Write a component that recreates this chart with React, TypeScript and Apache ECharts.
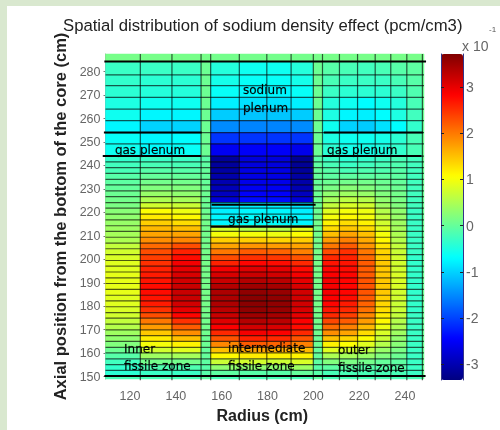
import React, { useEffect, useRef } from "react";
import * as echarts from "echarts";

const titleText = "Spatial distribution of sodium density effect (pcm/cm3)";
const xName = "Radius (cm)";
const yName = "Axial position from the bottom of the core (cm)";
const xTicks = [120, 140, 160, 180, 200, 220, 240];
const yTicks = [150, 160, 170, 180, 190, 200, 210, 220, 230, 240, 250, 260, 270, 280];
const barTicks = [-3, -2, -1, 0, 1, 2, 3];

const xEdges = [109.3, 124.5, 138.3, 151, 155.2, 167.7, 179.7, 190.3, 200, 204, 211.4, 219.3, 227, 233.8, 240.8, 247.6, 248.3];
const yEdges = [
  287.5, 284.3, 278.6, 274, 269, 264, 259.1, 254, 249.2, 244,
  241.5, 239.1, 236.6, 234.1, 231.7, 229.2, 226.7, 224.2, 221.8, 219.3,
  216.8, 214.3, 211.9, 209.4, 206.9, 204.5, 202, 199.5, 197.1, 194.6,
  192.1, 189.7, 187.2, 184.7, 182.3, 179.8, 177.3, 174.9, 172.4, 169.9,
  167.5, 165, 162.5, 160.1, 157.6, 155.1, 152.7, 150.2, 149,
];

// upper rows, top to bottom; each row lists the 16 columns
const upperRows = [
  [0.12, 0.12, 0.12, 0.12, 0.1, 0.1, 0.1, 0.1, 0.12, 0.12, 0.12, 0.12, 0.12, 0.12, 0.12, 0.12],
  [-0.3, -0.3, -0.3, 0.05, -0.45, -0.6, -0.6, -0.45, 0.05, -0.1, -0.2, -0.25, -0.2, -0.1, -0.05, 0.05],
  [-0.35, -0.4, -0.4, 0.05, -0.55, -0.65, -0.65, -0.55, 0.05, -0.2, -0.3, -0.3, -0.3, -0.2, -0.1, 0.05],
  [-0.4, -0.45, -0.45, 0.05, -0.65, -0.75, -0.75, -0.65, 0.05, -0.3, -0.4, -0.4, -0.4, -0.3, -0.15, 0.05],
  [-0.5, -0.6, -0.6, 0.05, -0.8, -0.9, -0.9, -0.8, 0.05, -0.45, -0.6, -0.7, -0.6, -0.45, -0.2, 0.05],
  [-0.6, -0.75, -0.75, 0.05, -1.05, -1.1, -1.1, -1.05, 0.05, -0.5, -0.75, -0.8, -0.7, -0.5, -0.25, 0.05],
  [-0.75, -1.0, -1.0, 0.05, -1.5, -1.55, -1.55, -1.5, 0.05, -0.6, -1.0, -1.05, -0.9, -0.7, -0.35, 0.05],
  [-0.65, -0.75, -0.7, 0.05, -2.1, -2.1, -2.1, -2.1, 0.05, -0.5, -0.6, -0.6, -0.55, -0.4, -0.2, 0.05],
  [-0.6, -0.7, -0.65, 0.05, -2.55, -2.5, -2.5, -2.6, 0.05, -0.4, -0.55, -0.55, -0.5, -0.35, -0.2, 0.05],
];

// lower rows, one array per column, top to bottom (38 rows from 244 cm to 150 cm)
const col0 = [-0.35, -0.25, -0.2, -0.1, -0.05, 0, 0.05, 0.1, 0.15, 0.25, 0.3, 0.35, 0.4, 0.45, 0.5, 0.65, 0.75, 0.8, 0.85, 0.85, 0.9, 0.9, 0.9, 0.9, 0.85, 0.85, 0.8, 0.75, 0.65, 0.55, 0.4, 0.3, 0.2, 0.05, -0.1, -0.25, -0.35, -0.4];
const col1 = [-0.3, -0.2, -0.1, 0, 0.1, 0.2, 0.35, 0.5, 0.75, 1.05, 1.2, 1.4, 1.55, 1.7, 1.85, 2.1, 2.3, 2.4, 2.5, 2.6, 2.65, 2.7, 2.75, 2.75, 2.7, 2.65, 2.5, 2.3, 2.0, 1.75, 1.45, 1.2, 1.0, 0.75, 0.4, 0.1, -0.15, -0.3];
const col2 = [-0.3, -0.2, -0.1, 0, 0.1, 0.2, 0.3, 0.45, 0.7, 0.95, 1.1, 1.3, 1.5, 1.7, 1.9, 2.3, 2.6, 2.75, 2.9, 3.0, 3.1, 3.15, 3.2, 3.2, 3.2, 3.15, 3.0, 2.8, 2.5, 2.2, 1.85, 1.5, 1.15, 0.85, 0.45, 0.1, -0.15, -0.3];
const col3 = [-0.1, -0.05, 0, 0, 0, 0.05, 0.05, 0.05, 0.05, 0.05, 0.1, 0.1, 0.1, 0.1, 0.1, 0.1, 0.12, 0.12, 0.12, 0.12, 0.12, 0.12, 0.12, 0.12, 0.12, 0.12, 0.12, 0.1, 0.1, 0.1, 0.08, 0.05, 0.05, 0, 0, -0.05, -0.1, -0.1];
const col4 = [-3.15, -3.15, -3.1, -3.05, -3.0, -2.95, -2.9, -2.75, -0.85, -0.8, -0.75, -0.75, 0.75, 1.0, 1.4, 1.7, 2.0, 2.3, 2.6, 2.9, 3.1, 3.2, 3.35, 3.4, 3.4, 3.4, 3.3, 3.2, 3.05, 2.85, 2.55, 2.25, 1.9, 1.5, 1.1, 0.7, 0.3, -0.05];
const col5 = [-2.7, -2.7, -2.65, -2.65, -2.6, -2.55, -2.5, -2.4, -0.8, -0.75, -0.7, -0.7, 0.55, 1.0, 1.4, 1.8, 2.2, 2.5, 2.8, 3.05, 3.2, 3.35, 3.5, 3.6, 3.65, 3.65, 3.6, 3.5, 3.35, 3.15, 2.9, 2.6, 2.2, 1.7, 1.2, 0.75, 0.3, -0.1];
const col6 = [-2.7, -2.7, -2.65, -2.65, -2.6, -2.55, -2.5, -2.4, -0.8, -0.75, -0.7, -0.7, 0.55, 0.95, 1.35, 1.75, 2.15, 2.45, 2.75, 3.0, 3.15, 3.3, 3.45, 3.55, 3.6, 3.6, 3.55, 3.45, 3.3, 3.1, 2.85, 2.55, 2.15, 1.65, 1.15, 0.7, 0.3, -0.1];
const col7 = [-3.2, -3.2, -3.15, -3.1, -3.05, -3.0, -2.9, -2.75, -0.85, -0.8, -0.75, -0.75, 0.85, 1.05, 1.4, 1.7, 1.95, 2.25, 2.55, 2.75, 2.9, 3.0, 3.1, 3.15, 3.15, 3.15, 3.1, 3.0, 2.85, 2.75, 2.55, 2.25, 1.95, 1.55, 1.15, 0.8, 0.4, 0];
const col8 = [-0.1, -0.05, 0, 0, 0, 0.05, 0.05, 0.05, 0.05, 0.05, 0.1, 0.1, 0.1, 0.1, 0.1, 0.1, 0.12, 0.12, 0.12, 0.12, 0.12, 0.12, 0.12, 0.12, 0.12, 0.12, 0.12, 0.1, 0.1, 0.1, 0.08, 0.05, 0.05, 0, 0, -0.05, -0.1, -0.1];
const col9 = [-0.3, -0.2, -0.1, -0.05, 0.05, 0.15, 0.3, 0.45, 0.65, 0.85, 1.0, 1.15, 1.3, 1.5, 1.75, 2.0, 2.3, 2.55, 2.7, 2.8, 2.85, 2.9, 2.9, 2.9, 2.85, 2.8, 2.7, 2.55, 2.35, 2.1, 1.85, 1.5, 1.15, 0.85, 0.5, 0.2, -0.05, -0.2];
const col10 = [-0.4, -0.3, -0.2, -0.05, 0.1, 0.25, 0.4, 0.6, 0.8, 1.0, 1.1, 1.3, 1.45, 1.7, 1.95, 2.2, 2.5, 2.6, 2.7, 2.75, 2.8, 2.8, 2.8, 2.8, 2.75, 2.65, 2.55, 2.4, 2.2, 1.95, 1.7, 1.35, 1.05, 0.75, 0.45, 0.15, -0.05, -0.2];
const col11 = [-0.35, -0.25, -0.15, -0.05, 0.1, 0.2, 0.35, 0.55, 0.75, 0.95, 1.0, 1.15, 1.3, 1.5, 1.65, 1.8, 2.0, 2.1, 2.2, 2.2, 2.2, 2.25, 2.25, 2.25, 2.2, 2.15, 2.05, 1.9, 1.75, 1.55, 1.3, 1.05, 0.85, 0.6, 0.35, 0.1, -0.1, -0.2];
const col12 = [-0.3, -0.2, -0.15, -0.05, 0.05, 0.1, 0.2, 0.3, 0.4, 0.55, 0.65, 0.75, 0.85, 1.0, 1.1, 1.25, 1.35, 1.4, 1.45, 1.45, 1.45, 1.45, 1.45, 1.45, 1.4, 1.35, 1.3, 1.2, 1.1, 0.95, 0.8, 0.7, 0.55, 0.35, 0.2, 0, -0.1, -0.2];
const col13 = [-0.2, -0.15, -0.1, -0.05, 0, 0.05, 0.1, 0.15, 0.2, 0.3, 0.35, 0.4, 0.45, 0.5, 0.55, 0.65, 0.7, 0.75, 0.75, 0.75, 0.8, 0.8, 0.8, 0.75, 0.75, 0.7, 0.7, 0.65, 0.55, 0.5, 0.4, 0.3, 0.25, 0.15, 0.05, -0.05, -0.1, -0.2];
const col14 = [-0.25, -0.25, -0.25, -0.25, -0.25, -0.25, -0.25, -0.25, -0.25, -0.3, -0.3, -0.3, -0.3, -0.3, -0.3, -0.3, -0.3, -0.35, -0.35, -0.35, -0.35, -0.35, -0.35, -0.35, -0.35, -0.35, -0.35, -0.3, -0.3, -0.3, -0.3, -0.3, -0.3, -0.3, -0.3, -0.3, -0.3, -0.3];
const col15 = [0.05, 0.05, 0.05, 0.05, 0.05, 0.05, 0.05, 0.05, 0.05, 0.05, 0.05, 0.05, 0.05, 0.05, 0.05, 0.05, 0.05, 0.05, 0.05, 0.05, 0.05, 0.05, 0.05, 0.05, 0.05, 0.05, 0.05, 0.05, 0.05, 0.05, 0.05, 0.05, 0.05, 0.05, 0.05, 0.05, 0.05, 0.05];
const lowerColumns = [col0, col1, col2, col3, col4, col5, col6, col7, col8, col9, col10, col11, col12, col13, col14, col15];
const bottomRow = [-0.2, -0.2, -0.2, -0.05, -0.2, -0.2, -0.2, -0.2, -0.05, -0.2, -0.2, -0.2, -0.2, -0.2, -0.2, 0];

// x1, y1, x2, y2 of each heavy line, in chart units
const heavyLines = [
  [108.8, 284.3, 249.2, 284.3],
  [108.6, 254, 151.3, 254],
  [108.1, 244, 151, 244],
  [204.6, 254, 247.8, 254],
  [204, 244, 247.2, 244],
  [155.6, 223.3, 201, 223.3],
  [155.2, 213.9, 200, 213.9],
  [108.8, 150.3, 249, 150.3],
];

const notes: [string, number, number][] = [
  ["sodium", 169.3, 272.2],
  ["plenum", 169.3, 264.5],
  ["gas plenum", 113.4, 246.6],
  ["gas plenum", 206, 246.6],
  ["gas plenum", 162.8, 217.2],
  ["Inner", 117.4, 161.8],
  ["fissile zone", 117.4, 154.6],
  ["intermediate", 162.8, 162.2],
  ["fissile zone", 162.8, 154.6],
  ["outer", 210.8, 161.4],
  ["fissile zone", 210.8, 153.7],
];

const jet = ["#000080", "#0000ff", "#0080ff", "#00ffff", "#80ff80", "#ffff00", "#ff8000", "#ff0000", "#800000"];

const rowsAll: number[][] = [
  ...upperRows,
  ...col0.map((_, r) => lowerColumns.map((c) => c[r])),
  bottomRow,
];

export default function App() {
  const ref = useRef<HTMLDivElement>(null);
  useEffect(() => {
    const chart = echarts.init(ref.current!, undefined, { renderer: "svg" });
    const cells: number[][] = [];
    rowsAll.forEach((row, r) =>
      row.forEach((v, c) => cells.push([xEdges[c], yEdges[r], xEdges[c + 1], yEdges[r + 1], v]))
    );
    const gridLines: number[][] = [
      ...xEdges.slice(1, -1).map((x) => [x, 287.5, x, 148.5]),
      ...yEdges.slice(1, -1).map((y) => [109.3, y, 248.3, y]),
    ];
    const lineItem = (width: number, stroke: string) => (_: any, api: any) => {
      const a = api.coord([api.value(0), api.value(1)]);
      const b = api.coord([api.value(2), api.value(3)]);
      return { type: "line", shape: { x1: a[0], y1: a[1], x2: b[0], y2: b[1] }, style: { stroke, lineWidth: width } };
    };
    const sans = "'Liberation Sans', Arial, sans-serif";
    chart.setOption({
      animation: false,
      backgroundColor: "transparent",
      textStyle: { fontFamily: sans },
      title: {
        text: titleText,
        left: 63,
        top: 17,
        padding: 0,
        textStyle: { fontSize: 16.7, fontWeight: "normal", color: "#222", fontFamily: sans },
      },
      grid: [
        { left: 105.5, top: 54, width: 318.5, height: 325 },
        { left: 441, top: 54, width: 22, height: 326 },
      ],
      xAxis: [
        {
          type: "value",
          gridIndex: 0,
          min: 109.3,
          max: 248.3,
          name: xName,
          nameLocation: "middle",
          nameGap: 28,
          nameTextStyle: { fontSize: 16, fontWeight: "bold", color: "#222", padding: [0, 5, 0, 0] },
          splitLine: { show: false },
          axisLine: { show: false },
          axisTick: { show: false, customValues: xTicks },
          axisLabel: { customValues: xTicks, color: "#666", fontSize: 12.5, margin: 10 },
        },
        { type: "value", gridIndex: 1, min: 0, max: 1, show: false },
      ],
      yAxis: [
        {
          type: "value",
          gridIndex: 0,
          min: 149,
          max: 287.5,
          name: yName,
          nameLocation: "middle",
          nameGap: 36,
          nameTextStyle: { fontSize: 16.5, fontWeight: "bold", color: "#222" },
          splitLine: { show: false },
          axisLine: { show: true, onZero: false, lineStyle: { color: "#999" } },
          axisTick: { show: true, inside: false, length: 2, customValues: yTicks, lineStyle: { color: "#777" } },
          axisLabel: { customValues: yTicks, color: "#666", fontSize: 12.5, margin: 5 },
        },
        {
          type: "value",
          gridIndex: 1,
          position: "right",
          min: -3.34,
          max: 3.71,
          z: 10,
          splitLine: { show: false },
          axisLine: { show: true, onZero: false, lineStyle: { color: "#333388" } },
          axisTick: { show: true, inside: true, length: 3, customValues: barTicks, lineStyle: { color: "#222" } },
          axisLabel: { customValues: barTicks, color: "#666", fontSize: 14, margin: 3, formatter: (v: number) => String(v) },
        },
        {
          type: "value",
          gridIndex: 1,
          position: "left",
          min: -3.34,
          max: 3.71,
          z: 10,
          splitLine: { show: false },
          axisLine: { show: true, onZero: false, lineStyle: { color: "#333388" } },
          axisTick: { show: true, inside: true, length: 3, customValues: barTicks, lineStyle: { color: "#222" } },
          axisLabel: { show: false },
        },
      ],
      visualMap: {
        type: "continuous",
        seriesIndex: 0,
        dimension: 4,
        min: -3.34,
        max: 3.71,
        calculable: false,
        realtime: false,
        left: 441,
        top: 54,
        padding: 0,
        itemWidth: 22,
        itemHeight: 326,
        showLabel: false,
        inRange: { color: jet },
      },
      graphic: [
        { type: "text", x: 462, y: 39, style: { text: "x 10", fontSize: 14, fill: "#666", fontFamily: sans } },
        { type: "text", x: 489, y: 25, style: { text: "-1", fontSize: 8, fill: "#555", fontFamily: sans } },
      ],
      series: [
        {
          type: "custom",
          xAxisIndex: 0,
          yAxisIndex: 0,
          encode: { x: [0, 2], y: [1, 3] },
          data: cells,
          renderItem: (_: any, api: any) => {
            const a = api.coord([api.value(0), api.value(1)]);
            const b = api.coord([api.value(2), api.value(3)]);
            const fill = api.visual("color");
            return {
              type: "rect",
              shape: { x: a[0], y: a[1], width: b[0] - a[0], height: b[1] - a[1] },
              style: { fill, stroke: fill, lineWidth: 0.5 },
            };
          },
        },
        { type: "custom", xAxisIndex: 0, yAxisIndex: 0, clip: false, z: 3, data: gridLines, renderItem: lineItem(1.2, "rgba(0,0,0,0.65)") },
        { type: "custom", xAxisIndex: 0, yAxisIndex: 0, clip: false, z: 4, data: heavyLines, renderItem: lineItem(2, "#000") },
        {
          type: "custom",
          xAxisIndex: 0,
          yAxisIndex: 0,
          clip: false,
          z: 5,
          data: notes.map((n) => [n[1], n[2], n[0]]),
          renderItem: (_: any, api: any) => {
            const p = api.coord([api.value(0), api.value(1)]);
            return {
              type: "text",
              x: p[0],
              y: p[1],
              style: {
                text: String(api.value(2)),
                fontSize: 12,
                fontFamily: "'DejaVu Sans', sans-serif",
                fill: "#000",
                stroke: "rgba(0,0,0,0.4)",
                lineWidth: 0.4,
                verticalAlign: "middle",
                align: "left",
              },
            };
          },
        },
        { type: "custom", xAxisIndex: 1, yAxisIndex: 1, data: [], renderItem: () => null },
      ],
    });
    return () => chart.dispose();
  }, []);
  return (
    <div style={{ position: "fixed", left: 0, top: 0, width: 500, height: 430, background: "#d9e8cf", overflow: "hidden" }}>
      <div style={{ position: "absolute", left: 7, top: 6, width: 493, height: 424, background: "#fff" }} />
      <div ref={ref} style={{ position: "absolute", left: 0, top: 0, width: 500, height: 430, filter: "blur(0.5px)" }} />
    </div>
  );
}
